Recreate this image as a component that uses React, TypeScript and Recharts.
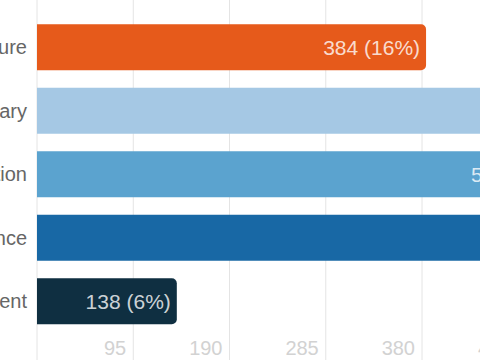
import React from 'react';
import { BarChart, Bar, XAxis, YAxis, CartesianGrid, Cell, LabelList } from 'recharts';

const categories = ['Infrastructure', 'Salary', 'Location', 'Work-life balance', 'Management'];
const values = [384, 702, 530, 650, 138];
const percents = [16, 29, 22, 27, 6];
const colors = ['#e65a1b', '#a5c8e4', '#5ba3cf', '#1868a5', '#0f2f41'];
const xTicks = [0, 95, 190, 285, 380, 475, 570, 665, 760];

const data = categories.map((name, i) => ({
  name,
  value: values[i],
  label: `${values[i]} (${percents[i]}%)`,
}));

const FONT = '"Liberation Sans", Arial, Helvetica, sans-serif';

function XTick(props: any) {
  const { x, y, payload } = props;
  if (payload.value === 0) return null;
  return (
    <text x={x} y={y} dx={-7} dy={-25} textAnchor="end" fill="#d2d2d2" fontSize={20} fontFamily={FONT}>
      {payload.value}
    </text>
  );
}

export default function App() {
  return (
    <div style={{ position: 'absolute', left: 0, top: 0, width: 480, height: 360, overflow: 'hidden', background: '#fff', fontFamily: FONT }}>
      <div style={{ position: 'absolute', left: -150, top: -20 }}>
        <BarChart
          width={967}
          height={430}
          data={data}
          layout="vertical"
          margin={{ top: 10, right: 10, bottom: 0, left: 37 }}
        >
          <CartesianGrid horizontal={false} stroke="#e4e4e4" />
          <XAxis
            type="number"
            domain={[0, 760]}
            ticks={xTicks}
            axisLine={false}
            tickLine={false}
            tickSize={0}
            tickMargin={0}
            height={30}
            tick={<XTick />}
            interval={0}
          />
          <YAxis
            type="category"
            dataKey="name"
            width={150}
            axisLine={false}
            tickLine={false}
            tickMargin={4}
            padding={{ top: 25.25, bottom: 47.25 }}
            tick={{ fill: '#666', fontSize: 20, fontFamily: FONT }}
          />
          <Bar dataKey="value" barSize={46} radius={[0, 5, 5, 0]} isAnimationActive={false}>
            {data.map((d, i) => (
              <Cell key={d.name} fill={colors[i]} />
            ))}
            <LabelList
              dataKey="label"
              position="insideRight"
              offset={6}
              fill="rgba(255,255,255,0.8)"
              fontSize={21}
              fontFamily={FONT}
            />
          </Bar>
        </BarChart>
      </div>
    </div>
  );
}
